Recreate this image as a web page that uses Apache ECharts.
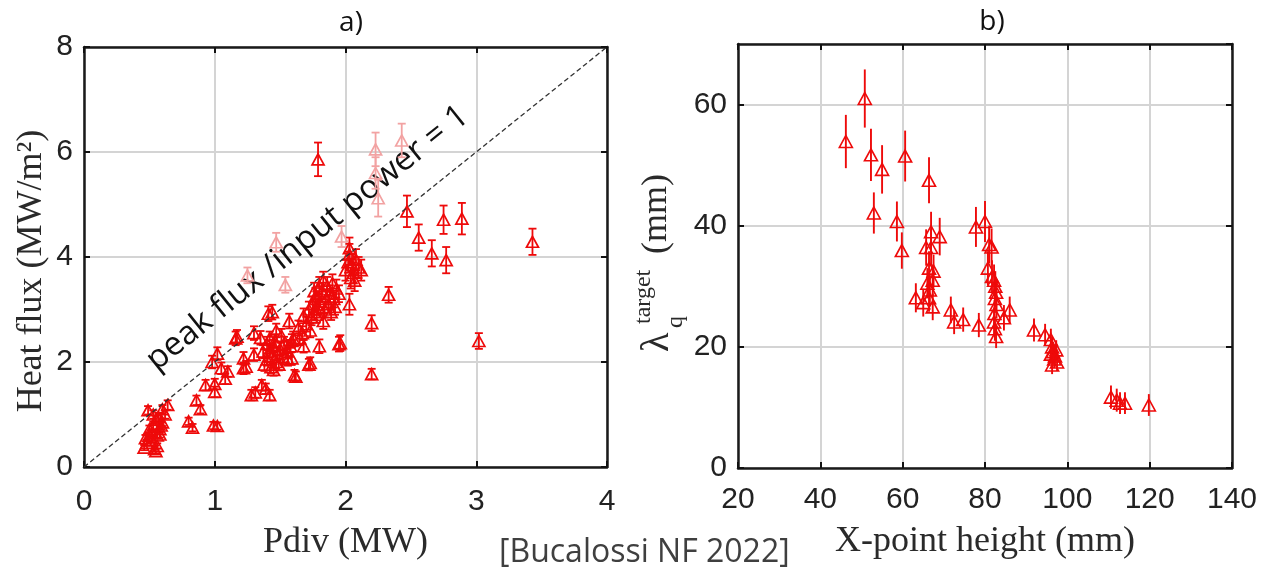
<!DOCTYPE html>
<html><head><meta charset="utf-8">
<script src="https://cdn.jsdelivr.net/npm/echarts@6/dist/echarts.min.js"></script>
<style>html,body{margin:0;padding:0;background:#fff}#c{width:1261px;height:570px}</style>
</head><body><div id="c"></div>
<script>
// ---------- Panel a) Heat flux vs Pdiv ----------
const aRedX = [0.46,0.48,0.47,0.50,0.52,0.54,0.55,0.56,0.50,0.53,0.58,0.59,0.55,0.57,0.62,0.49,0.64,0.60,0.52,0.56,0.58,0.53,0.60,
  0.80,0.83,0.86,0.89,0.99,1.02,0.93,1.00,1.00,1.08,1.10,0.98,1.02,1.05,1.16,1.22,1.22,1.30,1.24,1.31,1.28,1.36,1.39,1.42,1.30,1.35,1.41,1.44,1.57,1.62,1.72,
  1.38,1.40,1.42,1.44,1.45,1.47,1.48,1.50,1.43,1.46,1.52,1.53,1.55,1.40,1.37,1.49,1.58,1.60,1.56,1.45,1.51,1.47,1.42,
  1.59,1.59,1.68,1.67,1.64,1.70,1.68,1.73,1.65,1.80,1.95,1.83,1.76,
  1.72,1.75,1.77,1.78,1.80,1.82,1.84,1.85,1.86,1.87,1.88,1.90,1.91,1.93,1.80,1.76,1.83,1.89,1.92,1.74,1.95,1.79,
  2.00,2.02,2.03,2.04,2.05,2.06,2.08,2.10,2.12,2.03,2.07,
  2.03,2.20,2.20,2.33,1.96,3.02,1.79,2.47,2.56,2.66,2.75,2.77,2.89,3.43,1.73,1.61,1.17];
const aRedY = [0.37,0.46,0.55,0.60,0.52,0.34,0.30,0.40,0.72,0.79,0.72,0.79,0.90,0.95,1.00,1.08,1.18,1.10,0.65,0.60,0.62,1.00,0.85,
  0.87,0.75,1.27,1.10,0.79,0.78,1.56,1.58,1.43,1.68,1.82,2.00,2.16,1.88,2.45,2.07,1.88,2.14,1.91,1.42,1.37,1.56,1.49,1.37,2.55,2.46,2.92,2.95,2.78,1.72,1.95,
  1.95,2.05,2.20,2.10,2.30,2.00,2.15,2.25,1.90,2.40,2.10,2.35,2.20,2.35,2.20,1.95,2.30,2.45,2.05,1.85,2.50,2.60,2.45,
  2.07,2.40,2.30,2.55,2.65,2.72,2.88,2.60,2.45,2.30,2.34,2.78,2.95,
  3.00,3.10,3.25,2.90,3.15,3.35,3.00,3.20,3.45,3.10,3.30,3.50,3.20,3.40,3.45,3.35,3.55,2.95,3.05,2.85,3.30,3.05,
  3.75,3.90,4.05,3.60,3.85,3.70,3.95,3.80,3.75,4.17,3.55,
  3.10,2.74,1.77,3.28,2.36,2.40,5.86,4.87,4.37,4.07,4.71,3.94,4.73,4.29,1.98,1.75,2.48];
const aRedErr = [0.05,0.06,0.06,0.06,0.06,0.05,0.05,0.05,0.07,0.07,0.07,0.07,0.08,0.08,0.08,0.08,0.09,0.08,0.06,0.06,0.06,0.08,0.07,
  0.07,0.07,0.09,0.08,0.07,0.07,0.10,0.10,0.10,0.10,0.10,0.12,0.12,0.11,0.13,0.12,0.11,0.12,0.11,0.10,0.10,0.10,0.10,0.10,0.13,0.13,0.14,0.14,0.14,0.10,0.11,
  0.12,0.12,0.12,0.12,0.12,0.12,0.12,0.12,0.11,0.13,0.12,0.13,0.12,0.13,0.12,0.11,0.12,0.13,0.12,0.11,0.13,0.13,0.13,
  0.12,0.13,0.12,0.13,0.14,0.14,0.14,0.13,0.13,0.13,0.14,0.15,0.15,
  0.15,0.15,0.16,0.15,0.16,0.16,0.15,0.16,0.17,0.16,0.16,0.17,0.16,0.17,0.17,0.16,0.17,0.15,0.15,0.15,0.16,0.15,
  0.20,0.20,0.20,0.20,0.20,0.20,0.20,0.20,0.20,0.20,0.20,
  0.20,0.15,0.10,0.15,0.15,0.15,0.32,0.30,0.25,0.25,0.27,0.25,0.30,0.25,0.11,0.10,0.13];
const aPinkX = [1.25,1.54,1.47,1.97,2.23,2.23,2.25,2.43];
const aPinkY = [3.65,3.47,4.28,4.39,6.05,5.60,5.12,6.22];
const aPinkErr = [0.15,0.15,0.18,0.20,0.32,0.30,0.35,0.32];
const diagX = [0, 4];
const diagY = [0, 8];
const aXTicks = [0, 1, 2, 3, 4];
const aYTicks = [0, 2, 4, 6, 8];

// ---------- Panel b) lambda_q vs X-point height ----------
const bX = [46.2,50.8,52.3,55.0,53.0,58.6,59.8,60.6,66.4,66.9,69.0,65.7,66.9,66.4,67.3,66.6,66.0,67.5,63.2,65.0,66.4,67.3,
  71.7,72.5,74.7,78.5,77.8,80.0,81.0,81.6,80.7,81.7,82.2,82.5,82.7,82.4,82.8,82.3,82.2,82.4,82.7,84.6,86.0,
  91.9,94.6,96.0,96.3,96.5,97.0,96.8,97.3,96.0,97.5,96.3,110.6,112.0,112.8,114.0,119.8];
const bY = [53.9,61.0,51.7,49.3,42.1,40.7,35.9,51.5,47.5,39.0,38.2,36.4,36.4,33.0,31.0,29.4,30.5,32.5,28.1,27.3,28.1,26.6,
  26.1,24.1,24.5,23.6,39.8,40.7,36.9,36.5,33.0,31.6,31.0,30.0,29.0,28.0,27.0,25.5,24.1,23.0,21.7,24.8,26.1,
  22.8,22.0,21.2,20.0,19.2,18.5,18.0,19.5,18.8,17.5,17.0,11.7,11.2,10.7,10.7,10.4];
const bErr = [4.4,4.8,4.3,4.0,3.4,3.3,3.0,4.2,3.8,3.3,3.1,3.0,3.0,2.8,2.6,2.5,2.5,2.7,2.4,2.3,2.3,2.2,
  2.2,2.0,2.0,2.0,3.3,3.4,3.1,3.0,2.8,2.7,2.6,2.5,2.4,2.4,2.3,2.2,2.0,2.0,1.9,2.1,2.2,
  1.9,1.8,1.8,1.7,1.6,1.6,1.5,1.6,1.6,1.5,1.5,1.9,1.9,1.8,1.8,1.8];
const bXTicks = [20, 40, 60, 80, 100, 120, 140];
const bYTicks = [0, 20, 40, 60];
const bYMax = 70;

// ---------- helpers ----------
const zip3 = (X, Y, E) => X.map((x, i) => [x, Y[i], E[i]]);
const RED = '#ee0a0a', PINK = '#f2a2a2';
const tickFont = "'Liberation Sans',Arial,sans-serif";
const serif = "'Liberation Serif','Times New Roman',serif";
const sans = "'Open Sans','Noto Sans',sans-serif";

function errRender(cap, color, width) {
  return function (params, api) {
    const x = api.value(0), y = api.value(1), e = api.value(2);
    const lo = api.coord([x, y - e]), hi = api.coord([x, y + e]);
    const st = () => ({ stroke: color, lineWidth: width, fill: null });
    const ch = [{ type: 'line', shape: { x1: lo[0], y1: lo[1], x2: hi[0], y2: hi[1] }, style: st() }];
    if (cap) {
      ch.push({ type: 'line', shape: { x1: lo[0] - cap, y1: lo[1], x2: lo[0] + cap, y2: lo[1] }, style: st() });
      ch.push({ type: 'line', shape: { x1: hi[0] - cap, y1: hi[1], x2: hi[0] + cap, y2: hi[1] }, style: st() });
    }
    return { type: 'group', children: ch };
  };
}

const tickStyle = { show: true, inside: true, length: 6, lineStyle: { color: '#111', width: 2 } };
const lineStyleAx = { show: true, onZero: false, lineStyle: { color: '#1a1a1a', width: 2.5 } };
const splitStyle = { show: true, lineStyle: { color: '#d4d4d4', width: 2 } };
const lblStyle = (margin) => ({ show: true, margin: margin, fontFamily: tickFont, fontSize: 30, color: '#222' });

function mkX(grid, ticks, pos, name, nameGap, margin) {
  const main = pos === 'bottom';
  return {
    type: 'value', gridIndex: grid, position: pos,
    min: ticks[0], max: ticks[ticks.length - 1], interval: ticks[1] - ticks[0],
    axisLine: lineStyleAx, axisTick: tickStyle,
    axisLabel: main ? lblStyle(margin) : { show: false },
    splitLine: main ? splitStyle : { show: false },
    name: main ? name : '', nameLocation: 'middle', nameGap: nameGap,
    nameTextStyle: { fontFamily: serif, fontSize: 36, color: '#2a2a2a' }
  };
}
function mkY(grid, ticks, max, pos, name, nameGap, margin) {
  const main = pos === 'left';
  return {
    type: 'value', gridIndex: grid, position: pos,
    min: ticks[0], max: max, interval: ticks[1] - ticks[0],
    axisLine: lineStyleAx, axisTick: tickStyle,
    axisLabel: main ? Object.assign(lblStyle(margin), { showMaxLabel: max === ticks[ticks.length - 1] }) : { show: false },
    splitLine: main ? splitStyle : { show: false },
    name: main ? name : '', nameLocation: 'middle', nameGap: nameGap, nameRotate: 90,
    nameTextStyle: { fontFamily: serif, fontSize: 36, color: '#2a2a2a', padding: [0, 28, 0, 0] }
  };
}

const chart = echarts.init(document.getElementById('c'), null, { renderer: 'canvas' });
const option = {
  animation: false,
  backgroundColor: '#fff',
  grid: [
    { left: 84, top: 47, width: 523, height: 420 },
    { left: 738, top: 44, width: 494, height: 424 }
  ],
  xAxis: [
    mkX(0, aXTicks, 'bottom', 'Pdiv (MW)', 58, 20),
    mkX(0, aXTicks, 'top'),
    mkX(1, bXTicks, 'bottom', 'X-point height (mm)', 56, 17),
    mkX(1, bXTicks, 'top')
  ],
  yAxis: [
    mkY(0, aYTicks, aYTicks[aYTicks.length - 1], 'left', 'Heat flux (MW/m²)', 34, 11),
    mkY(0, aYTicks, aYTicks[aYTicks.length - 1], 'right'),
    mkY(1, bYTicks, bYMax, 'left', '', 40, 11),
    mkY(1, bYTicks, bYMax, 'right')
  ],
  series: [
    { type: 'line', xAxisIndex: 0, yAxisIndex: 0, data: diagX.map((x, i) => [x, diagY[i]]),
      symbol: 'none', lineStyle: { type: [5, 3], color: '#333', width: 1.3 }, z: 5, silent: true },
    { type: 'custom', xAxisIndex: 0, yAxisIndex: 0, data: zip3(aPinkX, aPinkY, aPinkErr),
      encode: { x: 0, y: 1 }, renderItem: errRender(4, PINK, 1.8), z: 2 },
    { type: 'scatter', xAxisIndex: 0, yAxisIndex: 0, data: aPinkX.map((x, i) => [x, aPinkY[i]]),
      symbol: 'triangle', symbolSize: [12, 11], itemStyle: { color: 'rgba(0,0,0,0)', borderColor: PINK, borderWidth: 1.7, opacity: 1 }, z: 3 },
    { type: 'custom', xAxisIndex: 0, yAxisIndex: 0, data: zip3(aRedX, aRedY, aRedErr),
      encode: { x: 0, y: 1 }, renderItem: errRender(4, RED, 1.8), z: 3 },
    { type: 'scatter', xAxisIndex: 0, yAxisIndex: 0, data: aRedX.map((x, i) => [x, aRedY[i]]),
      symbol: 'triangle', symbolSize: [12, 11], itemStyle: { color: 'rgba(0,0,0,0)', borderColor: RED, borderWidth: 1.7, opacity: 1 }, z: 4 },
    { type: 'custom', xAxisIndex: 2, yAxisIndex: 2, data: zip3(bX, bY, bErr),
      encode: { x: 0, y: 1 }, renderItem: errRender(0, RED, 1.9), z: 3 },
    { type: 'scatter', xAxisIndex: 2, yAxisIndex: 2, data: bX.map((x, i) => [x, bY[i]]),
      symbol: 'triangle', symbolSize: [13, 12], itemStyle: { color: 'rgba(0,0,0,0)', borderColor: RED, borderWidth: 1.6, opacity: 1 }, z: 4 }
  ]
};
chart.setOption(option);

// text placed relative to the diagonal through the library's scales
const p0 = chart.convertToPixel({ xAxisIndex: 0, yAxisIndex: 0 }, [diagX[0], diagY[0]]);
const p1 = chart.convertToPixel({ xAxisIndex: 0, yAxisIndex: 0 }, [diagX[1], diagY[1]]);
const ang = Math.atan2(p0[1] - p1[1], p1[0] - p0[0]);
const anchor = chart.convertToPixel({ xAxisIndex: 0, yAxisIndex: 0 }, [1.71, 4.36]);

chart.setOption({
  graphic: [
    { type: 'text', x: anchor[0], y: anchor[1], rotation: ang,
      style: { text: 'peak flux /input power = 1', font: "33px " + sans, fill: '#111', align: 'center', verticalAlign: 'middle' } },
    { type: 'text', x: 351, y: 23, style: { text: 'a)', font: "28px " + sans, fill: '#111', align: 'center', verticalAlign: 'middle' } },
    { type: 'text', x: 992, y: 22, style: { text: 'b)', font: "28px " + sans, fill: '#111', align: 'center', verticalAlign: 'middle' } },
    { type: 'text', x: 499, y: 553, style: { text: '[Bucalossi NF 2022]', font: "32px " + sans, fill: '#3f3f3f', align: 'left', verticalAlign: 'middle' } },
    { type: 'group', x: 657, y: 352, rotation: Math.PI / 2, children: [
      { type: 'text', x: 0, y: 0, style: { text: 'λ', font: "40px " + serif, fill: '#2a2a2a', align: 'left', verticalAlign: 'middle' } },
      { type: 'text', x: 24, y: 19, style: { text: 'q', font: "24px " + serif, fill: '#2a2a2a', align: 'left', verticalAlign: 'middle' } },
      { type: 'text', x: 28, y: -13, style: { text: 'target', font: "24px " + serif, fill: '#2a2a2a', align: 'left', verticalAlign: 'middle' } },
      { type: 'text', x: 98, y: 0, style: { text: '(mm)', font: "36px " + serif, fill: '#2a2a2a', align: 'left', verticalAlign: 'middle' } }
    ] }
  ]
});
</script>
</body></html>
